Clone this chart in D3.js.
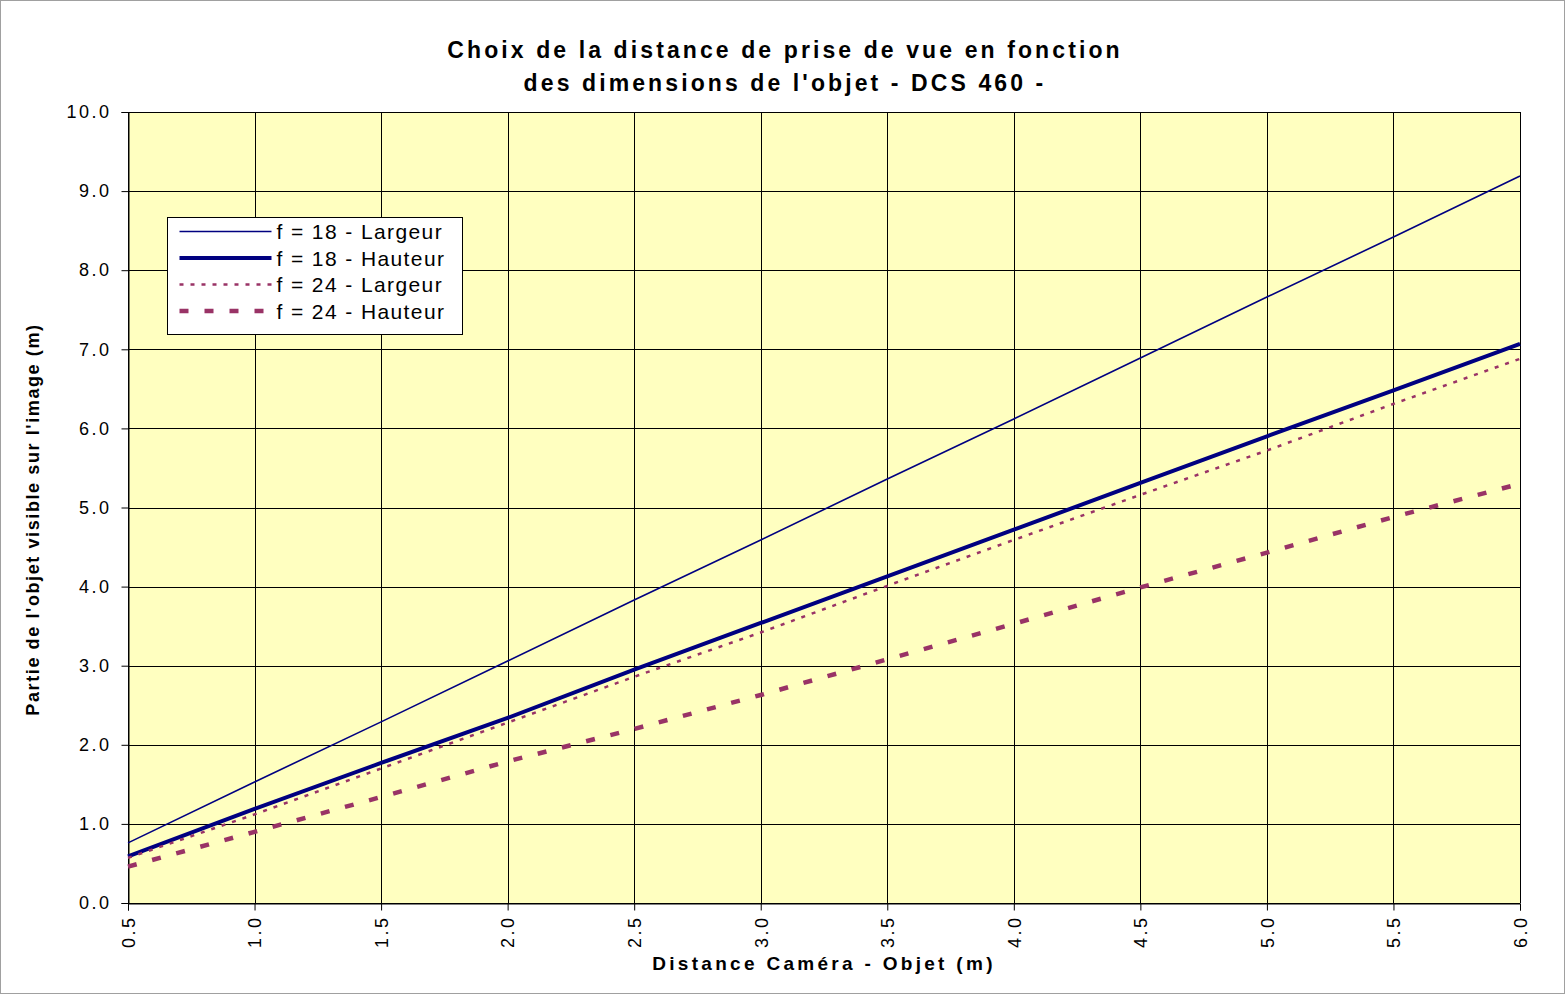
<!DOCTYPE html>
<html><head><meta charset="utf-8">
<script src="https://cdn.jsdelivr.net/npm/d3@7"></script>
<style>body{margin:0;background:#fff;} svg{display:block;}</style>
</head><body>
<script>
const distances = [0.5,1.0,1.5,2.0,2.5,3.0,3.5,4.0,4.5,5.0,5.5,6.0];
const f18Largeur = [0.76,1.53,2.29,3.06,3.83,4.59,5.36,6.12,6.89,7.66,8.42,9.19];
const f18Hauteur = [0.59,1.19,1.77,2.34,2.95,3.54,4.13,4.72,5.31,5.90,6.48,7.07];
const f24Largeur = [0.57,1.12,1.70,2.28,2.86,3.42,4.01,4.59,5.16,5.72,6.31,6.88];
const f24Hauteur = [0.46,0.90,1.34,1.79,2.20,2.63,3.08,3.53,3.99,4.43,4.88,5.30];
const yTicks = [0,1,2,3,4,5,6,7,8,9,10];
const seriesNames = ["f = 18 - Largeur","f = 18 - Hauteur","f = 24 - Largeur","f = 24 - Hauteur"];

const W = 1565, H = 995;
const m = {left:128, right:45, top:112, bottom:92};
const FONT = "Liberation Sans, Arial, sans-serif";
const svg = d3.select("body").append("svg").attr("width",W).attr("height",H);
svg.append("rect").attr("x",0.5).attr("y",0.5).attr("width",W-1).attr("height",H-2)
  .attr("fill","#fff").attr("stroke","#a0a0a0").attr("stroke-width",1);

const x = d3.scaleLinear().domain([0.5,6.0]).range([m.left, W-m.right]);
const y = d3.scaleLinear().domain([0,10]).range([H-m.bottom, m.top]);

svg.append("rect").attr("x",x(0.5)).attr("y",y(10)).attr("width",x(6)-x(0.5)).attr("height",y(0)-y(10))
  .attr("fill","#FFFFC0");

// grid
const g = svg.append("g");
g.selectAll(".gy").data(yTicks).join("line")
  .attr("x1",x(0.5)).attr("x2",x(6)).attr("y1",d=>Math.round(y(d))+0.5).attr("y2",d=>Math.round(y(d))+0.5)
  .attr("stroke","#000").attr("stroke-width",1);
g.selectAll(".gx").data(distances).join("line")
  .attr("y1",y(0)).attr("y2",y(10)).attr("x1",d=>Math.round(x(d))+0.5).attr("x2",d=>Math.round(x(d))+0.5)
  .attr("stroke","#000").attr("stroke-width",1);

// axes
const yAxis = d3.axisLeft(y).tickValues(yTicks).tickFormat(d3.format(".1f")).tickSize(7).tickPadding(10);
const ya = svg.append("g").attr("transform",`translate(${Math.round(x(0.5))+0.5},0)`).call(yAxis);
ya.select(".domain").attr("stroke","#000");
ya.selectAll("text").attr("font-family",FONT).attr("font-size",18)
  .attr("letter-spacing","2.5px").attr("fill","#000");

const xAxis = d3.axisBottom(x).tickValues(distances).tickFormat(d3.format(".1f")).tickSize(7).tickPadding(10);
const xa = svg.append("g").attr("transform",`translate(0,${Math.round(y(0))+0.5})`).call(xAxis);
xa.select(".domain").attr("stroke","#000");
xa.selectAll("text").attr("font-family",FONT).attr("font-size",18)
  .attr("letter-spacing","2.5px").attr("fill","#000")
  .attr("transform","rotate(-90)").attr("text-anchor","end").attr("x",-12).attr("y",0).attr("dy","0.35em");

// lines
const line = d3.line().x((d,i)=>x(distances[i])).y(d=>y(d));
const styles = [
  {data:f18Largeur, color:"#000080", w:1.6, dash:null},
  {data:f18Hauteur, color:"#000080", w:4, dash:null},
  {data:f24Largeur, color:"#993366", w:2.5, dash:"4,7"},
  {data:f24Hauteur, color:"#993366", w:4.5, dash:"9,16"}
];
styles.forEach(s=>{
  svg.append("path").datum(s.data).attr("d",line).attr("fill","none")
    .attr("stroke",s.color).attr("stroke-width",s.w).attr("stroke-dasharray",s.dash);
});

// legend
const lg = svg.append("g").attr("transform","translate(167.5,217.5)");
lg.append("rect").attr("width",295).attr("height",117).attr("fill","#fff").attr("stroke","#000");
styles.forEach((s,i)=>{
  const yy = 14 + i*26.5;
  lg.append("line").attr("x1",12).attr("x2",104).attr("y1",yy).attr("y2",yy)
    .attr("stroke",s.color).attr("stroke-width",s.w).attr("stroke-dasharray",s.dash);
  lg.append("text").attr("x",109).attr("y",yy).attr("dy","0.36em")
    .attr("font-family",FONT).attr("font-size",21)
    .attr("letter-spacing","1.4px").text(seriesNames[i]);
});

// titles
const title = svg.append("text").attr("text-anchor","middle")
  .attr("font-family",FONT).attr("font-weight","bold").attr("font-size",23)
  .attr("letter-spacing","3.1px");
title.append("tspan").attr("x",785).attr("y",58).text("Choix de la distance de prise de vue en fonction");
title.append("tspan").attr("x",785).attr("y",91).text("des dimensions de l'objet - DCS 460 -");

svg.append("text").attr("text-anchor","middle").attr("x",(x(0.5)+x(6))/2).attr("y",970)
  .attr("font-family",FONT).attr("font-weight","bold").attr("font-size",19)
  .attr("letter-spacing","3.3px").text("Distance Caméra - Objet (m)");

svg.append("text").attr("text-anchor","middle")
  .attr("transform",`translate(39,${(y(0)+y(10))/2+12}) rotate(-90)`)
  .attr("font-family",FONT).attr("font-weight","bold").attr("font-size",18)
  .attr("letter-spacing","1.6px")
  .text("Partie de l'objet visible sur l'image (m)");
</script>
</body></html>
